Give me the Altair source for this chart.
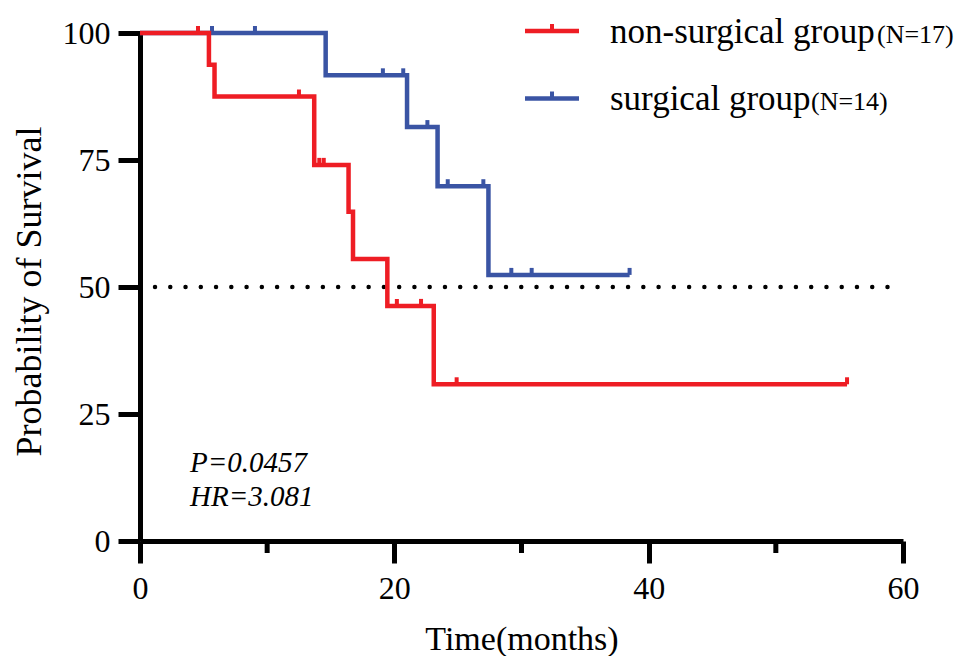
import altair as alt
import pandas as pd

# ---- data ----
red_t = [0, 5.42, 5.86, 13.7, 16.4, 16.75, 19.45, 23.1, 55.6]
red_s = [100, 93.75, 87.5, 74.04, 64.79, 55.53, 46.28, 30.85, 30.85]
red_cens_t = [4.56, 12.5, 14.1, 14.45, 20.2, 22.1, 24.9, 55.6]
red_cens_s = [100, 87.5, 74.04, 74.04, 46.28, 46.28, 30.85, 30.85]

blue_t = [0, 14.6, 21.0, 23.4, 27.4, 38.5]
blue_s = [100, 91.67, 81.48, 69.84, 52.38, 52.38]
blue_cens_t = [5.66, 9.04, 19.1, 20.7, 22.6, 24.2, 27.0, 29.2, 30.8, 38.5]
blue_cens_s = [100, 100, 91.67, 91.67, 81.48, 69.84, 69.84, 52.38, 52.38, 52.38]

groups = ["non-surgical group", "surgical group"]
group_n = [17, 14]
colors = ["#EE1D24", "#3A54A4"]

x_ticks = [0, 20, 40, 60]
x_minor_ticks = [10, 30, 50]
y_ticks = [0, 25, 50, 75, 100]
median_level = 50
median_x = [1.18, 58.8]

p_text = "P=0.0457"
hr_text = "HR=3.081"
x_title = "Time(months)"
y_title = "Probability of Survival"

FONT = "Liberation Serif"
W, H = 763, 508

curves = pd.concat([
    pd.DataFrame({"t": red_t, "s": red_s, "g": groups[0]}),
    pd.DataFrame({"t": blue_t, "s": blue_s, "g": groups[1]}),
])
cens = pd.concat([
    pd.DataFrame({"t": red_cens_t, "s": red_cens_s, "g": groups[0]}),
    pd.DataFrame({"t": blue_cens_t, "s": blue_cens_s, "g": groups[1]}),
])

xscale = alt.Scale(domain=[0, 60], nice=False, zero=False)
yscale = alt.Scale(domain=[0, 100], nice=False)
cscale = alt.Scale(domain=groups, range=colors)

xaxis = alt.Axis(values=x_ticks, tickSize=22, tickWidth=5, tickColor="black",
                 domainWidth=5, domainColor="black", grid=False,
                 labelFont=FONT, labelFontSize=32, labelColor="black",
                 labelPadding=10, labelFlush=False,
                 title=x_title, titleFont=FONT, titleFontSize=34,
                 titleFontWeight="normal", titleColor="black",
                 titleX=381.5, titleY=108, titleBaseline="alphabetic",
                 titleAlign="center")
yaxis = alt.Axis(values=y_ticks, tickSize=22, tickWidth=5, tickColor="black",
                 domainWidth=5, domainColor="black", grid=False,
                 labelFont=FONT, labelFontSize=32, labelColor="black",
                 labelPadding=8,
                 title=y_title, titleFont=FONT, titleFontSize=36,
                 titleFontWeight="normal", titleColor="black",
                 titleX=-100, titleY=258, titleAngle=270,
                 titleBaseline="alphabetic", titleAlign="center")

blue_df = curves[curves["g"] == groups[1]]
red_df = curves[curves["g"] == groups[0]]

def curve(df):
    return alt.Chart(df).mark_line(interpolate="step-after", strokeWidth=4.5,
                                   strokeCap="butt", strokeJoin="miter").encode(
        x=alt.X("t:Q", scale=xscale, axis=xaxis),
        y=alt.Y("s:Q", scale=yscale, axis=yaxis),
        color=alt.Color("g:N", scale=cscale, legend=None),
    )

def ticks(df):
    return alt.Chart(df).mark_tick(orient="vertical", size=7, thickness=4,
                                   yOffset=-3.5, opacity=1).encode(
        x=alt.X("t:Q", scale=xscale),
        y=alt.Y("s:Q", scale=yscale),
        color=alt.Color("g:N", scale=cscale, legend=None),
    )

ref = alt.Chart(pd.DataFrame({"x": [median_x[0]], "x2": [median_x[1]], "y": [median_level]})).mark_rule(
    color="black", strokeWidth=4.5, strokeDash=[0.01, 15.25], strokeCap="round").encode(
    x=alt.X("x:Q", scale=xscale), x2="x2:Q", y=alt.Y("y:Q", scale=yscale))

minor = alt.Chart(pd.DataFrame({"t": x_minor_ticks})).mark_rule(
    color="black", strokeWidth=5).encode(
    x=alt.X("t:Q", scale=xscale), y=alt.value(H), y2=alt.value(H + 12))

one = alt.Data(values=[{}])
legend_layers = []
leg_y = [-2, 65.5]
txt_y = [10, 77]
n_x = [737, 671]
for i in range(2):
    legend_layers.append(alt.Chart(one).mark_rule(color=colors[i], strokeWidth=4.5).encode(
        x=alt.value(385), x2=alt.value(439), y=alt.value(leg_y[i])))
    legend_layers.append(alt.Chart(one).mark_rule(color=colors[i], strokeWidth=4).encode(
        x=alt.value(412), y=alt.value(leg_y[i] - 7), y2=alt.value(leg_y[i])))
    legend_layers.append(alt.Chart(one).mark_text(
        text=groups[i], align="left", baseline="alphabetic", font=FONT,
        fontSize=35, color="black").encode(x=alt.value(470), y=alt.value(txt_y[i])))
    legend_layers.append(alt.Chart(one).mark_text(
        text=f"(N={group_n[i]})", align="left", baseline="alphabetic", font=FONT,
        fontSize=26, color="black").encode(x=alt.value(n_x[i]), y=alt.value(txt_y[i])))

annot = [
    alt.Chart(one).mark_text(text=p_text, align="left", baseline="alphabetic",
                             font=FONT, fontSize=29, fontStyle="italic",
                             color="black").encode(x=alt.value(50), y=alt.value(439)),
    alt.Chart(one).mark_text(text=hr_text, align="left", baseline="alphabetic",
                             font=FONT, fontSize=29, fontStyle="italic",
                             color="black").encode(x=alt.value(50), y=alt.value(473)),
]

chart = alt.layer(
    ref, minor, curve(blue_df), ticks(cens[cens["g"] == groups[1]]),
    curve(red_df), ticks(cens[cens["g"] == groups[0]]),
    *legend_layers, *annot
).properties(
    width=W, height=H,
    padding={"left": 132, "top": 25, "right": 51, "bottom": 115},
    autosize=alt.AutoSizeParams(type="none"),
    background="white",
).configure_view(stroke=None)

chart.save("out.html", embed_options={"renderer": "svg", "actions": False})
